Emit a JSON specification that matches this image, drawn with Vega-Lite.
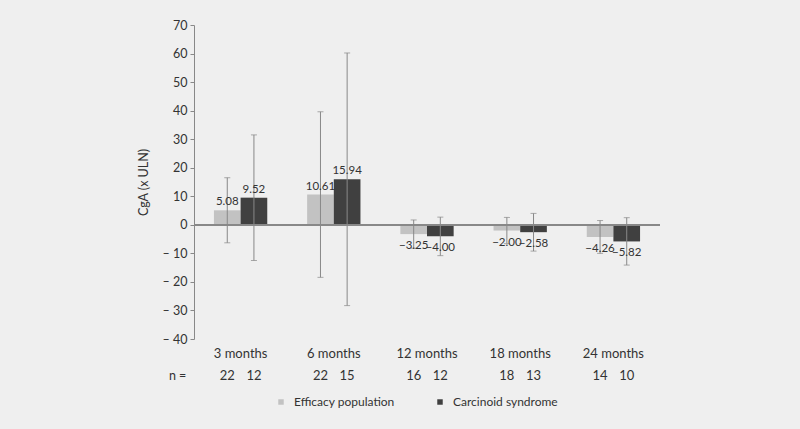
{
  "$schema": "https://vega.github.io/schema/vega-lite/v6.json",
  "width": 466,
  "height": 314,
  "autosize": {"type": "none"},
  "padding": {"left": 194, "top": 25, "right": 140, "bottom": 90},
  "background": "#efefef",
  "config": {
    "view": {"stroke": null},
    "font": "Lato",
    "axis": {"labelFont": "Lato", "titleFont": "Lato", "labelColor": "#333333", "titleColor": "#333333"},
    "axisY": {
      "titleFontWeight": "normal",
      "titleFontSize": 12.5,
      "titlePadding": 12,
      "labelFontSize": 12.5,
      "labelOverlap": false,
      "grid": false,
      "domainColor": "#888888",
      "tickColor": "#888888",
      "tickSize": 4,
      "labelPadding": 3
    },
    "legend": {"labelFont": "Lato"}
  },
  "data": {
    "values": [
      {"period": "3 months", "group": "Efficacy population", "value": 5.08, "lo": -6.3, "hi": 16.5, "n": 22},
      {"period": "3 months", "group": "Carcinoid syndrome", "value": 9.52, "lo": -12.5, "hi": 31.5, "n": 12},
      {"period": "6 months", "group": "Efficacy population", "value": 10.61, "lo": -18.4, "hi": 39.6, "n": 22},
      {"period": "6 months", "group": "Carcinoid syndrome", "value": 15.94, "lo": -28.3, "hi": 60.2, "n": 15},
      {"period": "12 months", "group": "Efficacy population", "value": -3.25, "lo": -8.2, "hi": 1.7, "n": 16},
      {"period": "12 months", "group": "Carcinoid syndrome", "value": -4.0, "lo": -10.8, "hi": 2.7, "n": 12},
      {"period": "18 months", "group": "Efficacy population", "value": -2.0, "lo": -6.6, "hi": 2.6, "n": 18},
      {"period": "18 months", "group": "Carcinoid syndrome", "value": -2.58, "lo": -9.2, "hi": 4.0, "n": 13},
      {"period": "24 months", "group": "Efficacy population", "value": -4.26, "lo": -10.0, "hi": 1.5, "n": 14},
      {"period": "24 months", "group": "Carcinoid syndrome", "value": -5.82, "lo": -14.1, "hi": 2.5, "n": 10}
    ]
  },
  "layer": [
    {
      "mark": {"type": "bar"},
      "encoding": {
        "x": {
          "field": "period", "type": "nominal",
          "sort": ["3 months", "6 months", "12 months", "18 months", "24 months"],
          "scale": {"paddingInner": 0.428, "paddingOuter": 0.214},
          "axis": {"title": null, "domain": false, "ticks": false, "labelAngle": 0, "labelFontSize": 13, "labelPadding": 8, "labelColor": "#333333"}
        },
        "xOffset": {
          "field": "group", "type": "nominal",
          "sort": ["Efficacy population", "Carcinoid syndrome"],
          "scale": {"paddingInner": 0, "paddingOuter": 0}
        },
        "y": {
          "field": "value", "type": "quantitative",
          "scale": {"domain": [-40, 70], "nice": false, "zero": false},
          "axis": {"title": "CgA (x ULN)", "values": [-40, -30, -20, -10, 0, 10, 20, 30, 40, 50, 60, 70], "labelExpr": "datum.value < 0 ? '\u2013 ' + abs(datum.value) : '' + datum.value"}
        },
        "color": {
          "field": "group", "type": "nominal",
          "sort": ["Efficacy population", "Carcinoid syndrome"],
          "scale": {"range": ["#c2c2c2", "#404040"]},
          "legend": {
            "title": null,
            "orient": "none",
            "legendX": 81,
            "legendY": 371,
            "direction": "horizontal",
            "symbolType": "square",
            "symbolSize": 30,
            "labelFontSize": 12,
            "labelColor": "#333333",
            "labelOffset": 7,
            "columnPadding": 39,
            "padding": 0
          }
        }
      }
    },
    {
      "mark": {"type": "rule", "color": "#888888", "strokeWidth": 1.2},
      "encoding": {
        "y": {"datum": 0, "type": "quantitative", "axis": {"title": "CgA (x ULN)", "values": [-40, -30, -20, -10, 0, 10, 20, 30, 40, 50, 60, 70], "labelExpr": "datum.value < 0 ? '\u2013 ' + abs(datum.value) : '' + datum.value"}}
      }
    },
    {
      "mark": {"type": "rule", "color": "#888888", "strokeWidth": 1},
      "encoding": {
        "x": {"field": "period", "type": "nominal", "sort": ["3 months", "6 months", "12 months", "18 months", "24 months"]},
        "xOffset": {"field": "group", "type": "nominal", "sort": ["Efficacy population", "Carcinoid syndrome"]},
        "y": {"field": "lo", "type": "quantitative", "axis": {"title": "CgA (x ULN)", "values": [-40, -30, -20, -10, 0, 10, 20, 30, 40, 50, 60, 70], "labelExpr": "datum.value < 0 ? '\u2013 ' + abs(datum.value) : '' + datum.value"}},
        "y2": {"field": "hi"}
      }
    },
    {
      "mark": {"type": "tick", "color": "#888888", "thickness": 1, "size": 6, "orient": "horizontal"},
      "encoding": {
        "x": {"field": "period", "type": "nominal", "sort": ["3 months", "6 months", "12 months", "18 months", "24 months"]},
        "xOffset": {"field": "group", "type": "nominal", "sort": ["Efficacy population", "Carcinoid syndrome"]},
        "y": {"field": "hi", "type": "quantitative", "axis": {"title": "CgA (x ULN)", "values": [-40, -30, -20, -10, 0, 10, 20, 30, 40, 50, 60, 70], "labelExpr": "datum.value < 0 ? '\u2013 ' + abs(datum.value) : '' + datum.value"}}
      }
    },
    {
      "mark": {"type": "tick", "color": "#888888", "thickness": 1, "size": 6, "orient": "horizontal"},
      "encoding": {
        "x": {"field": "period", "type": "nominal", "sort": ["3 months", "6 months", "12 months", "18 months", "24 months"]},
        "xOffset": {"field": "group", "type": "nominal", "sort": ["Efficacy population", "Carcinoid syndrome"]},
        "y": {"field": "lo", "type": "quantitative", "axis": {"title": "CgA (x ULN)", "values": [-40, -30, -20, -10, 0, 10, 20, 30, 40, 50, 60, 70], "labelExpr": "datum.value < 0 ? '\u2013 ' + abs(datum.value) : '' + datum.value"}}
      }
    },
    {
      "transform": [{"filter": "datum.value >= 0"}],
      "mark": {"type": "text", "baseline": "bottom", "dy": -3, "fontSize": 11.5, "color": "#333333"},
      "encoding": {
        "x": {"field": "period", "type": "nominal", "sort": ["3 months", "6 months", "12 months", "18 months", "24 months"]},
        "xOffset": {"field": "group", "type": "nominal", "sort": ["Efficacy population", "Carcinoid syndrome"]},
        "y": {"field": "value", "type": "quantitative", "axis": {"title": "CgA (x ULN)", "values": [-40, -30, -20, -10, 0, 10, 20, 30, 40, 50, 60, 70], "labelExpr": "datum.value < 0 ? '\u2013 ' + abs(datum.value) : '' + datum.value"}},
        "text": {"field": "value", "type": "quantitative", "format": ".2f"}
      }
    },
    {
      "transform": [{"filter": "datum.value < 0"}],
      "mark": {"type": "text", "baseline": "top", "dy": 6, "fontSize": 11.5, "color": "#333333"},
      "encoding": {
        "x": {"field": "period", "type": "nominal", "sort": ["3 months", "6 months", "12 months", "18 months", "24 months"]},
        "xOffset": {"field": "group", "type": "nominal", "sort": ["Efficacy population", "Carcinoid syndrome"]},
        "y": {"field": "value", "type": "quantitative", "axis": {"title": "CgA (x ULN)", "values": [-40, -30, -20, -10, 0, 10, 20, 30, 40, 50, 60, 70], "labelExpr": "datum.value < 0 ? '\u2013 ' + abs(datum.value) : '' + datum.value"}},
        "text": {"field": "value", "type": "quantitative", "format": ".2f"}
      }
    },
    {
      "mark": {"type": "text", "baseline": "middle", "fontSize": 13, "color": "#333333"},
      "encoding": {
        "x": {"field": "period", "type": "nominal", "sort": ["3 months", "6 months", "12 months", "18 months", "24 months"]},
        "xOffset": {"field": "group", "type": "nominal", "sort": ["Efficacy population", "Carcinoid syndrome"]},
        "y": {"datum": -52.9, "type": "quantitative", "axis": {"title": "CgA (x ULN)", "values": [-40, -30, -20, -10, 0, 10, 20, 30, 40, 50, 60, 70], "labelExpr": "datum.value < 0 ? '\u2013 ' + abs(datum.value) : '' + datum.value"}},
        "text": {"field": "n", "type": "nominal"}
      }
    },
    {
      "transform": [{"filter": "datum.period == '3 months' && datum.group == 'Efficacy population'"}],
      "mark": {"type": "text", "baseline": "middle", "fontSize": 12.5, "color": "#333333", "dx": -63},
      "encoding": {
        "x": {"field": "period", "type": "nominal", "sort": ["3 months", "6 months", "12 months", "18 months", "24 months"]},
        "y": {"datum": -52.9, "type": "quantitative", "axis": {"title": "CgA (x ULN)", "values": [-40, -30, -20, -10, 0, 10, 20, 30, 40, 50, 60, 70], "labelExpr": "datum.value < 0 ? '\u2013 ' + abs(datum.value) : '' + datum.value"}},
        "text": {"value": "n ="}
      }
    }
  ]
}
